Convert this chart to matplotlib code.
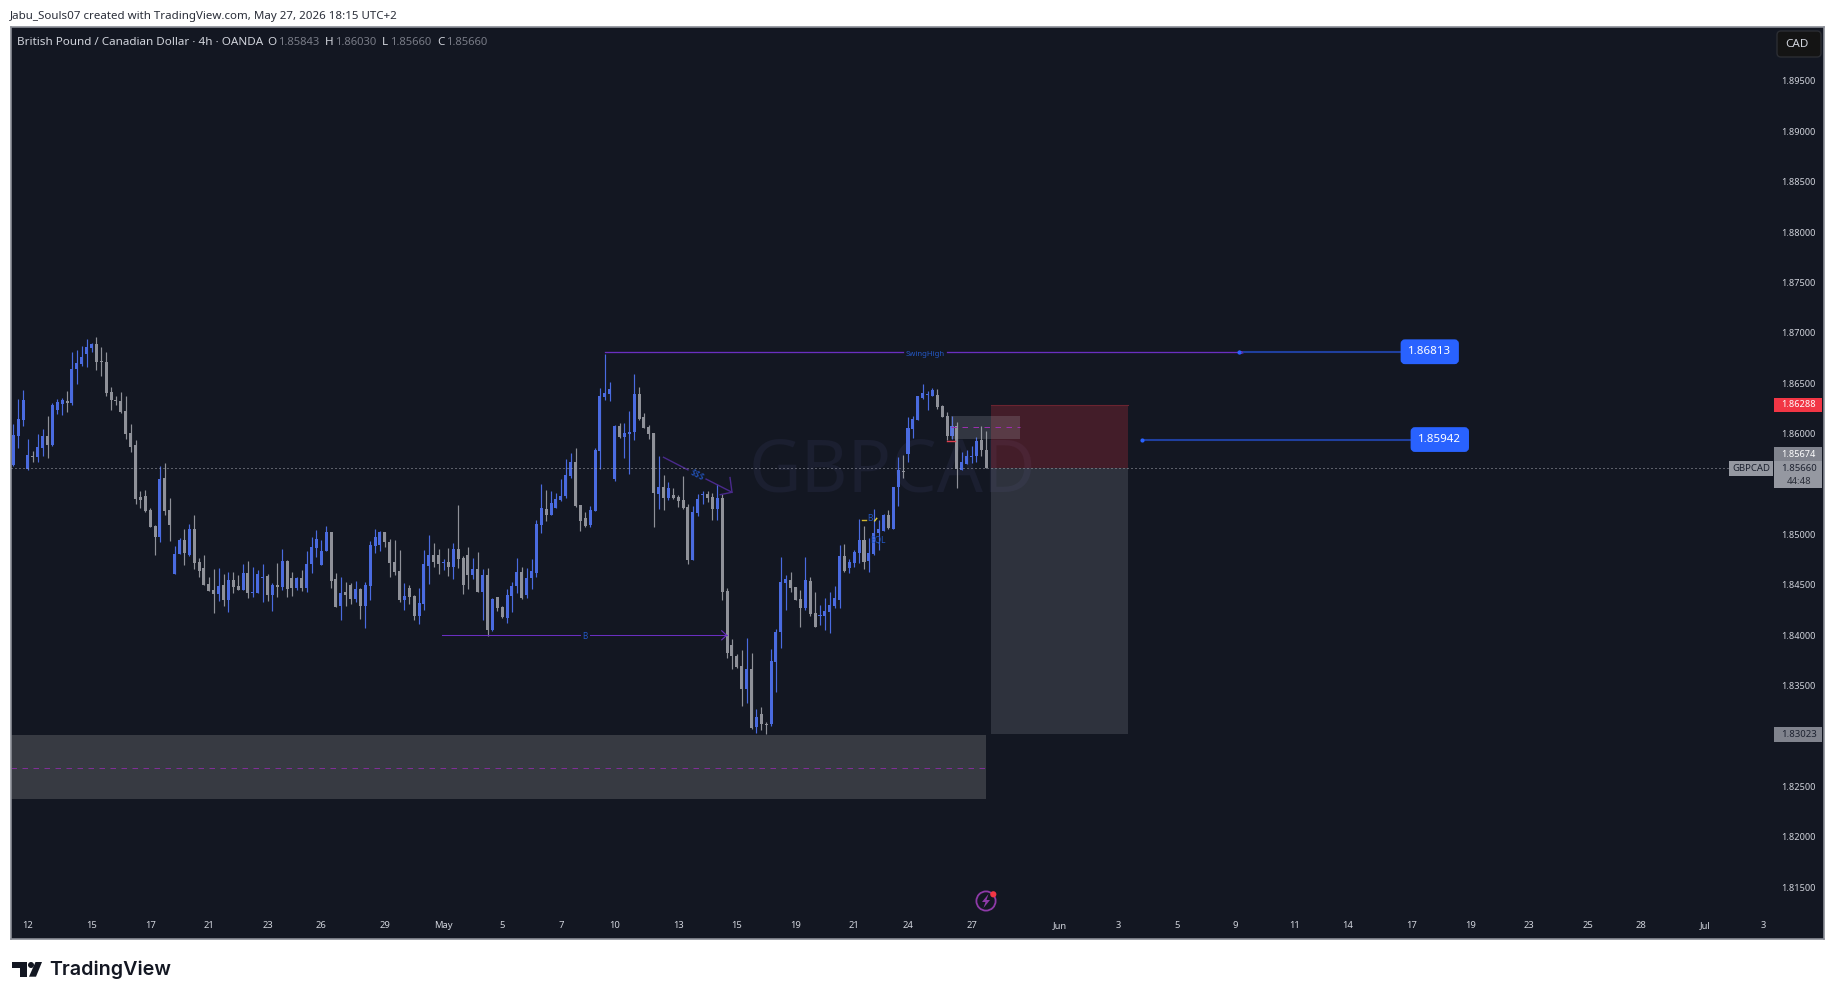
import matplotlib
matplotlib.use("Agg")
import matplotlib.pyplot as plt
import numpy as np
from matplotlib.patches import FancyBboxPatch, Rectangle, Circle, Polygon

# Price data, in units of 0.0001
opens = [18569,18598,18614,18565,18578,18577,18586,18598,18589,18624,18629,18632,18630,18664,18669,18679,18685,18689,18672,18671,
18641,18633,18632,18623,18601,18589,18537,18538,18524,18508,18498,18556,18524,18461,18481,18495,18480,18505,18473,18467,
18451,18445,18441,18450,18435,18455,18449,18445,18462,18442,18442,18457,18459,18440,18450,18448,18474,18457,18447,18457,
18447,18471,18487,18470,18484,18502,18456,18429,18443,18450,18436,18446,18429,18449,18489,18490,18502,18493,18473,18464,
18435,18447,18439,18419,18431,18469,18480,18480,18472,18473,18468,18486,18477,18480,18460,18466,18443,18460,18405,18438,
18428,18417,18439,18449,18463,18440,18457,18462,18509,18525,18519,18526,18534,18538,18558,18572,18529,18516,18509,18523,
18583,18636,18639,18555,18608,18597,18600,18602,18639,18617,18607,18601,18540,18547,18536,18539,18537,18534,18527,18475,
18521,18539,18540,18537,18525,18536,18444,18390,18379,18370,18347,18367,18309,18322,18312,18312,18374,18403,18452,18455,
18448,18436,18427,18454,18422,18419,18419,18423,18429,18435,18479,18467,18472,18482,18495,18474,18481,18501,18503,18519,
18505,18547,18563,18580,18605,18614,18635,18638,18637,18638,18627,18618,18598,18608,18564,18570,18577,18578,18594,18584]
highs = [18610,18634,18643,18595,18583,18600,18605,18618,18630,18634,18635,18642,18681,18683,18687,18694,18690,18696,18686,18681,
18646,18637,18641,18637,18610,18594,18543,18544,18526,18509,18568,18571,18536,18489,18497,18505,18510,18519,18477,18480,
18458,18466,18467,18461,18463,18463,18460,18471,18474,18468,18465,18471,18461,18452,18472,18486,18475,18463,18458,18465,
18484,18498,18504,18495,18508,18502,18462,18458,18453,18452,18454,18447,18453,18494,18505,18503,18502,18496,18495,18485,
18452,18450,18440,18447,18485,18500,18492,18486,18476,18487,18492,18529,18479,18488,18477,18483,18466,18467,18437,18438,
18429,18446,18453,18477,18468,18467,18476,18514,18550,18544,18543,18541,18555,18575,18581,18586,18529,18522,18528,18586,
18645,18679,18651,18609,18611,18611,18623,18659,18646,18621,18609,18601,18578,18559,18552,18546,18539,18558,18530,18528,
18540,18543,18543,18541,18550,18540,18447,18396,18381,18385,18397,18382,18327,18329,18314,18386,18406,18478,18460,18463,
18448,18445,18478,18458,18443,18430,18437,18443,18449,18490,18491,18476,18485,18515,18508,18497,18525,18514,18520,18524,
18547,18577,18579,18617,18618,18637,18649,18642,18645,18644,18628,18622,18618,18612,18582,18584,18588,18597,18608,18603]
lows = [18568,18586,18608,18564,18572,18572,18578,18576,18588,18620,18619,18622,18628,18649,18667,18666,18681,18663,18657,18637,
18624,18628,18621,18595,18582,18530,18526,18522,18507,18480,18493,18519,18494,18461,18481,18470,18479,18466,18458,18450,
18444,18422,18434,18429,18423,18442,18445,18445,18437,18438,18442,18433,18434,18424,18438,18445,18438,18439,18445,18444,
18443,18462,18478,18470,18484,18447,18428,18415,18429,18431,18433,18416,18407,18435,18482,18484,18488,18458,18460,18433,
18425,18431,18415,18411,18425,18451,18468,18461,18465,18459,18456,18467,18441,18446,18456,18443,18415,18399,18404,18424,
18417,18412,18423,18442,18436,18437,18446,18458,18501,18513,18519,18526,18533,18536,18556,18527,18503,18507,18507,18523,
18565,18633,18632,18553,18596,18576,18560,18594,18614,18606,18595,18507,18525,18524,18534,18535,18527,18525,18471,18475,
18518,18530,18532,18514,18514,18435,18377,18367,18368,18330,18333,18307,18303,18306,18302,18310,18344,18387,18425,18443,
18435,18408,18425,18419,18408,18410,18405,18402,18427,18427,18463,18462,18468,18472,18466,18463,18480,18485,18503,18505,
18505,18528,18556,18572,18596,18614,18634,18624,18637,18625,18617,18594,18595,18546,18564,18570,18571,18572,18578,18566]
closes = [18599,18615,18633,18579,18577,18587,18598,18589,18628,18631,18633,18630,18664,18670,18676,18686,18689,18671,18671,18640,
18633,18632,18622,18600,18587,18535,18534,18523,18507,18498,18555,18523,18509,18481,18495,18482,18505,18472,18464,18450,
18444,18441,18449,18435,18455,18448,18445,18462,18442,18443,18461,18458,18440,18450,18448,18474,18446,18447,18457,18447,
18471,18488,18496,18484,18502,18454,18428,18442,18440,18436,18446,18429,18450,18490,18498,18502,18493,18472,18463,18435,
18439,18438,18419,18432,18471,18480,18473,18471,18473,18468,18486,18476,18450,18460,18466,18443,18460,18405,18436,18427,
18418,18440,18449,18463,18437,18457,18464,18510,18526,18519,18531,18535,18538,18559,18572,18528,18513,18508,18524,18584,
18637,18640,18644,18608,18597,18601,18602,18639,18615,18606,18600,18541,18547,18536,18546,18536,18533,18526,18475,18522,
18535,18540,18536,18525,18536,18443,18382,18379,18369,18347,18367,18308,18319,18312,18311,18375,18403,18453,18456,18447,
18435,18427,18455,18421,18408,18420,18424,18430,18437,18479,18464,18473,18483,18495,18473,18482,18501,18505,18519,18506,
18547,18564,18562,18606,18615,18637,18640,18639,18643,18626,18617,18598,18608,18565,18572,18578,18578,18593,18584,18566]
PRICE_UNIT = 1e-4

price_ticks = [1.895,1.89,1.885,1.88,1.875,1.87,1.865,1.86,1.85,1.845,1.84,1.835,1.825,1.82,1.815]
date_tick_bars = [3,16,28,40,52,63,76,88,100,112,123,136,148,160,172,183,196,214,226,238,250,262,273,286,298,310,322,333,346,358]
date_tick_labels = ['12','15','17','21','23','26','29','May','5','7','10','13','15','19','21','24','27','Jun','3','5','9','11','14','17','19','23','25','28','Jul','3']

last_price = 1.8566
swing_high = 1.86813
label_level = 1.85942
stop_price = 1.86288
target_price = 1.83023
zone_top, zone_mid, zone_bottom = 1.83006, 1.82688, 1.82372
box_top, box_mid, box_bottom = 1.86176, 1.86064, 1.85948
bos_level = 1.84000

W, H = 1835, 1000
BG = '#131722'
BLUE = '#4a6be0'
GRAY = '#8f9199'
PURPLE = '#6a2fc0'
LBL = '#2457c5'
plt.rcParams['font.family'] = ['Noto Sans', 'DejaVu Sans']

fig = plt.figure(figsize=(W/100, H/100), dpi=100, facecolor='white')
L, R, T, B = 10.5, 1824, 27, 939
ax = fig.add_axes([L/W, 1-B/H, (R-L)/W, (B-T)/H], facecolor=BG)
ov = fig.add_axes([0, 0, 1, 1], facecolor='none', zorder=5)
ov.set_xlim(0, W); ov.set_ylim(H, 0); ov.axis('off')

bar0, bar_px = 13.3, 4.889
ax.set_xlim((L-bar0)/bar_px, (R-bar0)/bar_px)
ax.set_ylim(1.87-(B-332.9)/10080, 1.87+(332.9-T)/10080)
for s in ax.spines.values():
    s.set_color('#8a8d96'); s.set_linewidth(1.2)

ax.set_yticks(price_ticks)
ax.set_yticklabels([f'{p:.5f}' for p in price_ticks])
ax.yaxis.tick_right()
ax.tick_params(axis='y', length=0, pad=-31, labelsize=6.6, labelcolor='#d1d4dc')
ax.set_xticks(date_tick_bars)
ax.set_xticklabels(date_tick_labels)
ax.tick_params(axis='x', length=0, pad=-13, labelsize=6.8, labelcolor='#d1d4dc')
for t in ax.get_xticklabels() + ax.get_yticklabels():
    t.set_fontweight('bold')

# watermark
ax.text(179.9, 1.8562, 'GBPCAD', color='#1b1f30', fontsize=52, ha='center', va='center', zorder=0.5)

o, h, l, c = [np.array(a)*PRICE_UNIT for a in (opens, highs, lows, closes)]
idx = np.arange(len(o))
cols = np.where(c >= o, BLUE, GRAY)
ax.vlines(idx, l, h, colors=cols, lw=0.85, zorder=2)
ax.bar(idx, np.maximum(np.abs(c-o), 0.00008), bottom=np.minimum(o, c), width=0.62, color=cols, linewidth=0, zorder=2.1)

# zones
x_left = ax.get_xlim()[0]
ax.add_patch(Rectangle((x_left, zone_bottom), 199-x_left, zone_top-zone_bottom, fc='#373a42', ec='none', zorder=1))
ax.plot([x_left, 199], [zone_mid, zone_mid], color='#7f2f96', lw=0.72, dashes=(5.5, 5.5), zorder=1.1)
ax.add_patch(Rectangle((199.9, last_price), 28.1, stop_price-last_price, fc='#f23645', alpha=0.22, ec='none', zorder=3))
ax.plot([199.9, 228], [stop_price, stop_price], color='#6b2430', lw=0.8, zorder=3)
ax.add_patch(Rectangle((199.9, target_price), 28.1, last_price-target_price, fc='#787b86', alpha=0.27, ec='none', zorder=3))
ax.add_patch(Rectangle((191.9, box_bottom), 14, box_top-box_bottom, fc='#b2b5be', alpha=0.2, ec='none', zorder=3.2))
ax.plot([191.9, 205.9], [box_mid, box_mid], color='#9c2fae', lw=0.72, dashes=(5.5, 5.5), zorder=3.3)
ax.plot([190.9, 192.6], [1.85925, 1.85925], color='#e0404f', lw=1, zorder=3.3)

# current-price line
ax.plot([x_left, 351], [last_price, last_price], color='#a5a8b0', lw=0.72, dashes=(1, 3), zorder=4)

# swing-high annotation
ax.plot([121, 181.9], [swing_high, swing_high], color=PURPLE, lw=0.95, zorder=2.5)
ax.plot([190.9, 250.8], [swing_high, swing_high], color=PURPLE, lw=0.95, zorder=2.5)
ax.text(186.5, swing_high-0.00025, 'SwingHigh', color=LBL, fontsize=5.6, ha='center', va='center')
ax.plot([250.8, 251.9, 250.9], [swing_high+0.00005, swing_high-0.00005, swing_high-0.0002], color=PURPLE, lw=0.8)

# BOS line
ax.plot([87.7, 115.9], [bos_level, bos_level], color=PURPLE, lw=0.75, zorder=2.5)
ax.plot([118, 145.9], [bos_level, bos_level], color=PURPLE, lw=0.75, zorder=2.5)
ax.plot([144.9, 145.9, 144.9], [bos_level+0.00045, bos_level, bos_level-0.00045], color=PURPLE, lw=0.8, zorder=2.5)
ax.text(116.9, bos_level-0.00012, 'B', color=LBL, fontsize=5.8, ha='center', va='center')

# $$$ arrow
ar = '#4a2a8c'
ax.plot([133, 138], [1.85766, 1.85641], color=ar, lw=1.0, zorder=3)
ax.plot([141.7, 147], [1.85550, 1.85419], color=ar, lw=1.0, zorder=3)
ax.plot([146.6, 147, 144.6], [1.85565, 1.85419, 1.85395], color=ar, lw=1.0, zorder=3)
ax.text(139.9, 1.85595, '$$$', color=LBL, fontsize=6.2, rotation=-27, ha='center', va='center', zorder=3)

# small labels near the 21st
ax.plot([173.6, 174.4], [1.8514, 1.8514], color='#d4b730', lw=1, zorder=3)
ax.text(175.2, 1.85155, 'B', color=LBL, fontsize=6, ha='center', va='center', zorder=3)
ax.plot([176.2, 176.6], [1.85135, 1.8516], color='#e6d23a', lw=1, zorder=3)
ax.text(176.8, 1.8495, 'EQL', color=LBL, fontsize=6, ha='center', va='center', zorder=3)

# horizontal lines to price pills
ax.plot([251.7, 283.7], [swing_high, swing_high], color='#1f3f9e', lw=1.5, zorder=3)
ax.plot([250.8], [swing_high], 'o', color='#2962ff', ms=3, mew=0, zorder=3.1)
ax.plot([231.5, 285.7], [label_level, label_level], color='#1f3f9e', lw=1.5, zorder=3)
ax.plot([230.9], [label_level], 'o', color='#2962ff', ms=3, mew=0, zorder=3.1)

def Y(p):
    return 332.9 + (1.87-p)*10080

def pill(x0, x1, level, txt):
    yc = Y(level)
    ov.add_patch(FancyBboxPatch((x0+2, yc-11), x1-x0-4, 22, boxstyle='round,pad=0,rounding_size=3',
                 fc='#2962ff', ec='#2962ff', lw=2))
    ov.text((x0+x1)/2, yc, txt, color='white', fontsize=8.3, ha='center', va='center', fontweight='bold')
pill(1400, 1459.5, swing_high, f'{swing_high:.5f}')
pill(1410, 1469.6, label_level, f'{label_level:.5f}')

def badge(x0, y0, x1, y1, fc):
    ov.add_patch(Rectangle((x0, y0), x1-x0, y1-y0, fc=fc, ec='none'))

FS = 6.6
badge(1773.7, Y(stop_price)-7, 1821.6, Y(stop_price)+7.5, '#f23645')
ov.text(1798.7, Y(stop_price)+0.3, f'{stop_price:.5f}', color='white', fontsize=FS, ha='center', va='center', fontweight='bold')
badge(1773.7, 447, 1821.6, 461, '#80838d')
ov.text(1798.7, 454.5, '1.85674', color='white', fontsize=FS, ha='center', va='center', fontweight='bold')
badge(1773.7, 461, 1821.6, 487.7, '#9598a1')
ov.text(1798.7, 468.6, f'{last_price:.5f}', color='#1d2230', fontsize=6.9, ha='center', va='center')
ov.text(1798.7, 481, '44:48', color='#2a2e39', fontsize=6.9, ha='center', va='center')
badge(1729, 461, 1773, 476, '#9598a1')
ov.text(1751, 468.6, 'GBPCAD', color='#1d2230', fontsize=6.9, ha='center', va='center')
badge(1773.7, Y(target_price)-7, 1821.6, Y(target_price)+8, '#80838d')
ov.text(1798.7, Y(target_price)+0.3, f'{target_price:.5f}', color='#1d2230', fontsize=6.9, ha='center', va='center')

# CAD button
ov.add_patch(FancyBboxPatch((1777, 31), 44, 26, boxstyle='round,pad=0,rounding_size=4', fc='#141414', ec='#2b2d33', lw=1))
ov.text(1797, 44.5, 'CAD', color='#d1d4dc', fontsize=8.4, ha='center', va='center')

# header text
ov.text(10, 16, 'Jabu_Souls07 created with TradingView.com, May 27, 2026 18:15 UTC+2', color='#2a2e39', fontsize=8.3, ha='left', va='center')
ov.text(17, 42.3, 'British Pound / Canadian Dollar · 4h · OANDA', color='#d1d4dc', fontsize=8.4, ha='left', va='center', fontweight='bold')
for xa, xb, a, b in zip([267, 325, 382, 437.5], [278, 334.6, 390, 446], 'OHLC', ['1.85843', '1.86030', '1.85660', '1.85660']):
    ov.text(xa, 42.3, a, color='#d1d4dc', fontsize=8.4, ha='left', va='center', fontweight='bold')
    ov.text(xb, 42.3, b, color='#787b86', fontsize=8.1, ha='left', va='center')

# alert icon
ov.add_patch(Circle((986, 901), 9.6, fc='none', ec='#8e3aa8', lw=1.3))
ov.add_patch(Polygon([(988.5, 894), (982, 902), (985.5, 902), (983.5, 908), (990, 900), (986.5, 900)], fc='#8e3aa8', ec='none'))
ov.add_patch(Circle((993.3, 894.3), 3.1, fc='#f23645', ec='none'))

# logo
ov.add_patch(Polygon([(12.3, 962), (27, 962), (27, 976.7), (20, 976.7), (20, 968), (12.3, 968)], fc='#131722', ec='none'))
ov.add_patch(Circle((31, 965), 3, fc='#131722', ec='none'))
ov.add_patch(Polygon([(35.5, 962), (42, 962), (36, 976.7), (29, 976.7)], fc='#131722', ec='none'))
ov.text(49.5, 969.5, 'TradingView', color='#131722', fontsize=14.2, family='Inter', fontweight='semibold', ha='left', va='center')

fig.savefig('out.png', dpi=100, facecolor='white')
